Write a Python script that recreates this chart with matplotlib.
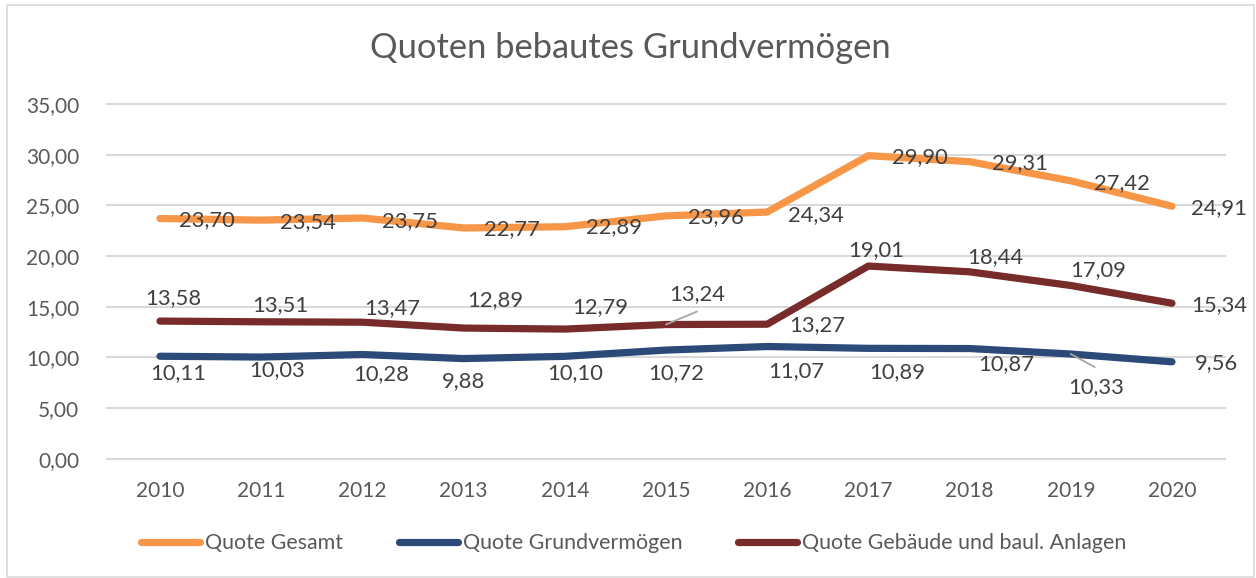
import matplotlib
matplotlib.use("Agg")
import matplotlib.pyplot as plt
from matplotlib.patches import Rectangle
from matplotlib.lines import Line2D

# ---------------- data ----------------
years = ["2010", "2011", "2012", "2013", "2014", "2015", "2016", "2017", "2018", "2019", "2020"]
quote_gesamt = [23.70, 23.54, 23.75, 22.77, 22.89, 23.96, 24.34, 29.90, 29.31, 27.42, 24.91]
quote_grund = [10.11, 10.03, 10.28, 9.88, 10.10, 10.72, 11.07, 10.89, 10.87, 10.33, 9.56]
quote_gebaeude = [13.58, 13.51, 13.47, 12.89, 12.79, 13.24, 13.27, 19.01, 18.44, 17.09, 15.34]
series_names = ["Quote Gesamt", "Quote Grundvermögen", "Quote Gebäude und baul. Anlagen"]
yticks = [0, 5, 10, 15, 20, 25, 30, 35]
title = "Quoten bebautes Grundvermögen"

# ---------------- style ----------------
FONT = ["Lato", "DejaVu Sans"]
plt.rcParams["font.family"] = FONT
c_orange = "#F79646"
c_blue = "#2B4A78"
c_red = "#772B2A"
c_grid = "#D9D9D9"
c_tick = "#595959"
c_lab = "#404040"

# label offsets (pixels) relative to each point
off_gesamt = [(47, -2), (47, -2), (48, -3), (48, -1), (49, 0), (50, -1), (49, -3),
              (51, -1), (50, -1), (51, -2), (47, -2)]
off_grund = [(18, -17), (16, -13), (19, -20), (0, -23), (10, -17), (10, -23), (29, -25),
             (29, -24), (37, -16), (25, -33), (45, -1)]
off_geb = [(13, 23), (19, 17), (30, 14), (32, 28), (35, 22), (31, 30), (50, -1),
           (8, 16), (26, 15), (27, 15), (47, -2)]
leaders = {("geb", 5): (31, 13), ("grund", 9): (24, -13)}

W, H = 1256, 578
fig = plt.figure(figsize=(W / 100, H / 100), dpi=100)
ax = fig.add_axes([107 / W, 1 - 458.7 / H, (1225 - 107) / W, (458.7 - 104) / H])

x = list(range(len(years)))
lw = 5.2
ax.plot(x, quote_gesamt, color=c_orange, lw=lw, solid_capstyle="round", solid_joinstyle="round", zorder=3)
ax.plot(x, quote_grund, color=c_blue, lw=lw, solid_capstyle="round", solid_joinstyle="round", zorder=3)
ax.plot(x, quote_gebaeude, color=c_red, lw=lw, solid_capstyle="round", solid_joinstyle="round", zorder=3)

ax.set_xlim(-0.524, 10.524)
ax.set_ylim(0, 35)
ax.set_yticks(yticks)
ax.set_yticklabels([f"{v:.2f}".replace(".", ",") for v in yticks])
ax.set_xticks(x)
ax.set_xticklabels(years)
ax.grid(axis="y", color=c_grid, lw=1.5, zorder=0)
ax.set_axisbelow(True)
for s in ax.spines.values():
    s.set_visible(False)
ax.tick_params(axis="both", length=0, labelsize=15, labelcolor=c_tick)
ax.tick_params(axis="y", pad=20)
ax.tick_params(axis="x", pad=16)
for g in ax.get_ygridlines():
    g.set_clip_on(False)

def fmt(v):
    return f"{v:.2f}".replace(".", ",")

for key, vals, offs in (("gesamt", quote_gesamt, off_gesamt),
                        ("grund", quote_grund, off_grund),
                        ("geb", quote_gebaeude, off_geb)):
    for i, v in enumerate(vals):
        ax.annotate(fmt(v), xy=(i, v), xytext=offs[i], textcoords="offset pixels",
                    ha="center", va="center", fontsize=15.8, color=c_lab, zorder=5,
                    annotation_clip=False)
        if (key, i) in leaders:
            ax.annotate("", xy=(i, v), xytext=leaders[(key, i)], textcoords="offset pixels",
                        arrowprops=dict(arrowstyle="-", color="#A6A6A6", lw=1.3,
                                        shrinkA=0, shrinkB=0), zorder=6)

fig.text(630 / W, 1 - 48 / H, title, ha="center", va="center", fontsize=24.8, color=c_tick)

handles = [Line2D([], [], color=c, lw=lw, solid_capstyle="round") for c in (c_orange, c_blue, c_red)]
fig.legend(handles, series_names, loc="center", bbox_to_anchor=(634 / W, 1 - 543 / H),
           ncol=3, frameon=False, fontsize=15.4, labelcolor=c_tick, handlelength=2.75,
           handletextpad=0.24, columnspacing=2.6, borderaxespad=0)

fig.patches.append(Rectangle((6.5 / W, 1 / H), (1254 - 6.5) / W, (573 - 1) / H,
                             transform=fig.transFigure, fill=False, edgecolor="#D9D9D9", lw=1.2))

fig.savefig("out.png", dpi=100, facecolor="white")
